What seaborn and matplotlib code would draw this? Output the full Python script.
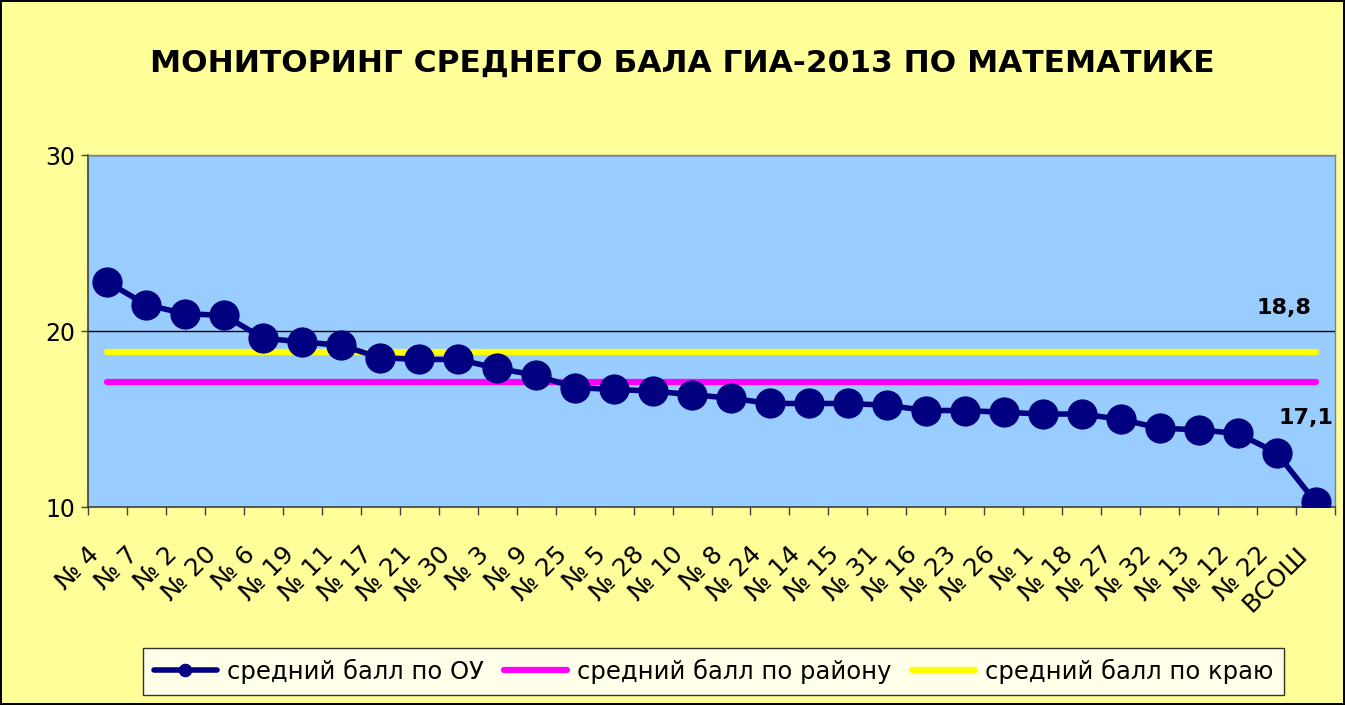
import numpy as np
import pandas as pd
import matplotlib
matplotlib.use("Agg")
import matplotlib.pyplot as plt
import seaborn as sns
from matplotlib.transforms import ScaledTranslation

# данные: средний балл ГИА-2013 по математике
schools = ["№ 4", "№ 7", "№ 2", "№ 20", "№ 6", "№ 19", "№ 11", "№ 17", "№ 21", "№ 30",
           "№ 3", "№ 9", "№ 25", "№ 5", "№ 28", "№ 10", "№ 8", "№ 24", "№ 14", "№ 15",
           "№ 31", "№ 16", "№ 23", "№ 26", "№ 1", "№ 18", "№ 27", "№ 32", "№ 13", "№ 12",
           "№ 22", "ВСОШ"]
school_avg = [22.8, 21.5, 21.0, 20.9, 19.6, 19.4, 19.2, 18.5, 18.4, 18.4,
              17.9, 17.5, 16.8, 16.7, 16.6, 16.4, 16.2, 15.9, 15.9, 15.9,
              15.8, 15.5, 15.5, 15.4, 15.3, 15.3, 15.0, 14.5, 14.4, 14.2,
              13.1, 10.3]
district_avg = 17.1
region_avg = 18.8

series_names = ["средний балл по ОУ", "средний балл по району", "средний балл по краю"]

pos = np.arange(len(schools))
df = pd.DataFrame({
    "pos": pos,
    "ou": school_avg,
    "district": [district_avg] * len(schools),
    "region": [region_avg] * len(schools),
})

sns.set_style("white")
plt.rcParams["font.family"] = ["DejaVu Sans"]
plt.rcParams["text.color"] = "black"
plt.rcParams["xtick.color"] = "black"
plt.rcParams["ytick.color"] = "black"

fig = plt.figure(figsize=(13.45, 7.05), dpi=100)
fig.patch.set_facecolor("#FFFF99")
fig.patch.set_edgecolor("black")
fig.patch.set_linewidth(1.5)
ax = fig.add_axes([0.0654, 0.2804, 0.9272, 0.4993])
ax.set_facecolor("#99CCFF")

sns.lineplot(data=df, x="pos", y="ou", ax=ax, color="#000080", linewidth=4,
             marker="o", markersize=21, markeredgecolor="#000080",
             label=series_names[0], zorder=5)
sns.lineplot(data=df, x="pos", y="district", ax=ax, color="#FF00FF", linewidth=4.5,
             solid_capstyle="round", label=series_names[1], zorder=3)
sns.lineplot(data=df, x="pos", y="region", ax=ax, color="#FFFF00", linewidth=4.5,
             solid_capstyle="round", label=series_names[2], zorder=3)

ax.set_xlim(-0.5, len(schools) - 0.5)
ax.set_ylim(10, 30)
ax.set_yticks([10, 20, 30])
ax.tick_params(axis="y", left=True, labelsize=17, direction="out", length=5, width=1,
               color="#404040", labelcolor="black", pad=4)
for y in [20, 30]:
    ax.axhline(y, color="black", linewidth=1, zorder=1)

ax.set_xticks(pos)
ax.set_xticklabels(schools, rotation=45, ha="right", va="center", rotation_mode="anchor",
                   fontsize=18)
ax.set_xticks(np.arange(-0.5, len(schools)), minor=True)
ax.tick_params(axis="x", which="major", bottom=True, length=0, pad=31, labelcolor="black")
ax.tick_params(axis="x", which="minor", bottom=True, direction="out", length=6, width=1,
               color="#404040")
for lbl in ax.get_xticklabels():
    lbl.set_transform(lbl.get_transform() + ScaledTranslation(-0.12, 0, fig.dpi_scale_trans))
ax.set_xlabel("")
ax.set_ylabel("")

for side in ["left", "bottom"]:
    ax.spines[side].set_color("#404040")
    ax.spines[side].set_linewidth(1.2)
for side in ["top", "right"]:
    ax.spines[side].set_color("#808080")
    ax.spines[side].set_linewidth(1)

# подписи значений для линий района и края
last = len(schools) - 1
ax.annotate("18,8", xy=(last, region_avg), xytext=(-23, 32), textcoords="offset points",
            ha="center", va="center", fontsize=16, fontweight="bold", color="black")
ax.annotate("17,1", xy=(last, district_avg), xytext=(-7, -26), textcoords="offset points",
            ha="center", va="center", fontsize=16, fontweight="bold", color="black")

fig.text(0.507, 0.91, "МОНИТОРИНГ СРЕДНЕГО БАЛА ГИА-2013 ПО МАТЕМАТИКЕ",
         ha="center", va="center", fontsize=22.5, fontweight="bold", color="black")

handles, labels = ax.get_legend_handles_labels()
leg = ax.legend(handles, labels, ncol=3, loc="center", bbox_to_anchor=(0.5305, 0.048),
                bbox_transform=fig.transFigure, fontsize=17.5, frameon=True, fancybox=False,
                handlelength=2.6, handletextpad=0.4, columnspacing=0.85, borderpad=0.45)
leg.get_frame().set_edgecolor("black")
leg.get_frame().set_facecolor("white")
leg.get_frame().set_linewidth(1)
for t in leg.get_texts():
    t.set_color("black")
for h in leg.legend_handles:
    h.set_markersize(9)

fig.savefig("out.png", dpi=100, facecolor=fig.get_facecolor(), edgecolor=fig.get_edgecolor())
